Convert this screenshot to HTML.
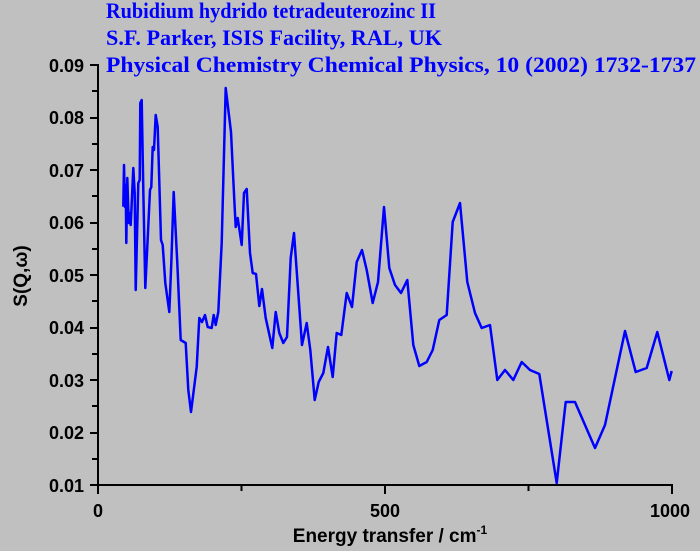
<!DOCTYPE html>
<html><head><meta charset="utf-8"><style>
html,body{margin:0;padding:0;background:#c0c0c0;}
svg{display:block}
</style></head><body>
<svg width="700" height="551" viewBox="0 0 700 551" xmlns="http://www.w3.org/2000/svg">
<rect width="700" height="551" fill="#c0c0c0"/>
<g font-family="Liberation Serif, serif" font-weight="bold" font-size="22" fill="#0000ff">
<text x="106" y="18" textLength="330" lengthAdjust="spacingAndGlyphs">Rubidium hydrido tetradeuterozinc II</text>
<text x="106" y="45" textLength="336" lengthAdjust="spacingAndGlyphs">S.F. Parker, ISIS Facility, RAL, UK</text>
<text x="106" y="72" textLength="590" lengthAdjust="spacingAndGlyphs">Physical Chemistry Chemical Physics, 10 (2002) 1732-1737</text>
</g>
<g stroke="#000" stroke-width="2" fill="none">
<line x1="98" y1="64" x2="98" y2="486"/>
<line x1="97" y1="485" x2="673" y2="485"/>
<path d="M90 65H98M92 91H98M90 118H98M92 144H98M90 170H98M92 196H98M90 223H98M92 249H98M90 275H98M92 301H98M90 328H98M92 354H98M90 380H98M92 406H98M90 433H98M92 459H98M90 485H98"/>
<path d="M98 485V494M241.5 485V491M385 485V494M528.5 485V491M672 485V494"/>
</g>
<g font-family="Liberation Sans, sans-serif" font-weight="bold" font-size="18" fill="#000" text-anchor="end">
<text x="84" y="72">0.09</text>
<text x="84" y="124">0.08</text>
<text x="84" y="177">0.07</text>
<text x="84" y="229">0.06</text>
<text x="84" y="282">0.05</text>
<text x="84" y="334">0.04</text>
<text x="84" y="387">0.03</text>
<text x="84" y="439">0.02</text>
<text x="84" y="492">0.01</text>
</g>
<g font-family="Liberation Sans, sans-serif" font-weight="bold" font-size="18" fill="#000" text-anchor="middle">
<text x="98" y="517">0</text>
<text x="385" y="517">500</text>
<text x="670" y="517">1000</text>
<text x="390" y="542" font-size="19">Energy transfer / cm<tspan dy="-8" font-size="12">-1</tspan></text>
<text transform="translate(27,276) rotate(-90)" font-size="19">S(Q,ω)</text>
</g>
<polyline fill="none" stroke="#0000ff" stroke-width="2.5" stroke-linejoin="round" points="123.3,206.7 124,165 125,207 125.7,185 126.3,243 127.3,178 128.7,223 129.7,213 130.7,225 132,197 133.3,168 134.7,193 135.7,290 138.3,183 139.7,180 140.3,103 141.7,100 143.3,190 145.3,288 147.3,247 150,190 151.3,187 152.7,147 154,150 155.7,115 157.7,127 161,240 162.7,245 165.3,283 169.3,312 171.3,263 173.7,192 177.3,263 180.7,340 185.7,343 188.3,390 191,412 196.7,367 199.3,318 202,322 205,315 207.7,327 211.7,328 213.7,315 215.7,325 218.3,312 221.7,243 225.7,88 231,132 234.3,200 235.7,227 237.7,218 241.7,245 244,193 246.7,189 250,253 252.7,273 256,274 259.3,306 262,289 265.7,318 272.3,348 275.7,312 279.3,333 283.3,343 287,337 290.7,258 294,233 302,345 306.7,323 310.3,350 314.7,400 318.7,382 323.3,373 328,347 332.7,377 336.7,333 341.3,335 346.7,293 352,307 356.7,262 362,250 366.7,270 372.7,303 378,282 384,207 389.3,268 395,285 401,293 407.3,280 413.3,345 419.3,366 426.7,362 432.7,350 439.3,320 446.7,315 452.7,222 460,203 467.3,282 475,313 481.7,328 490,325 497.3,380 505,370 513.3,380 521.7,362 530,370 539.3,374 556.7,483 565.7,402 575,402 595,448 605,425 625,331 635.7,372 646.7,368 657.3,332 669.3,380 671.7,371"/>
</svg>
</body></html>
